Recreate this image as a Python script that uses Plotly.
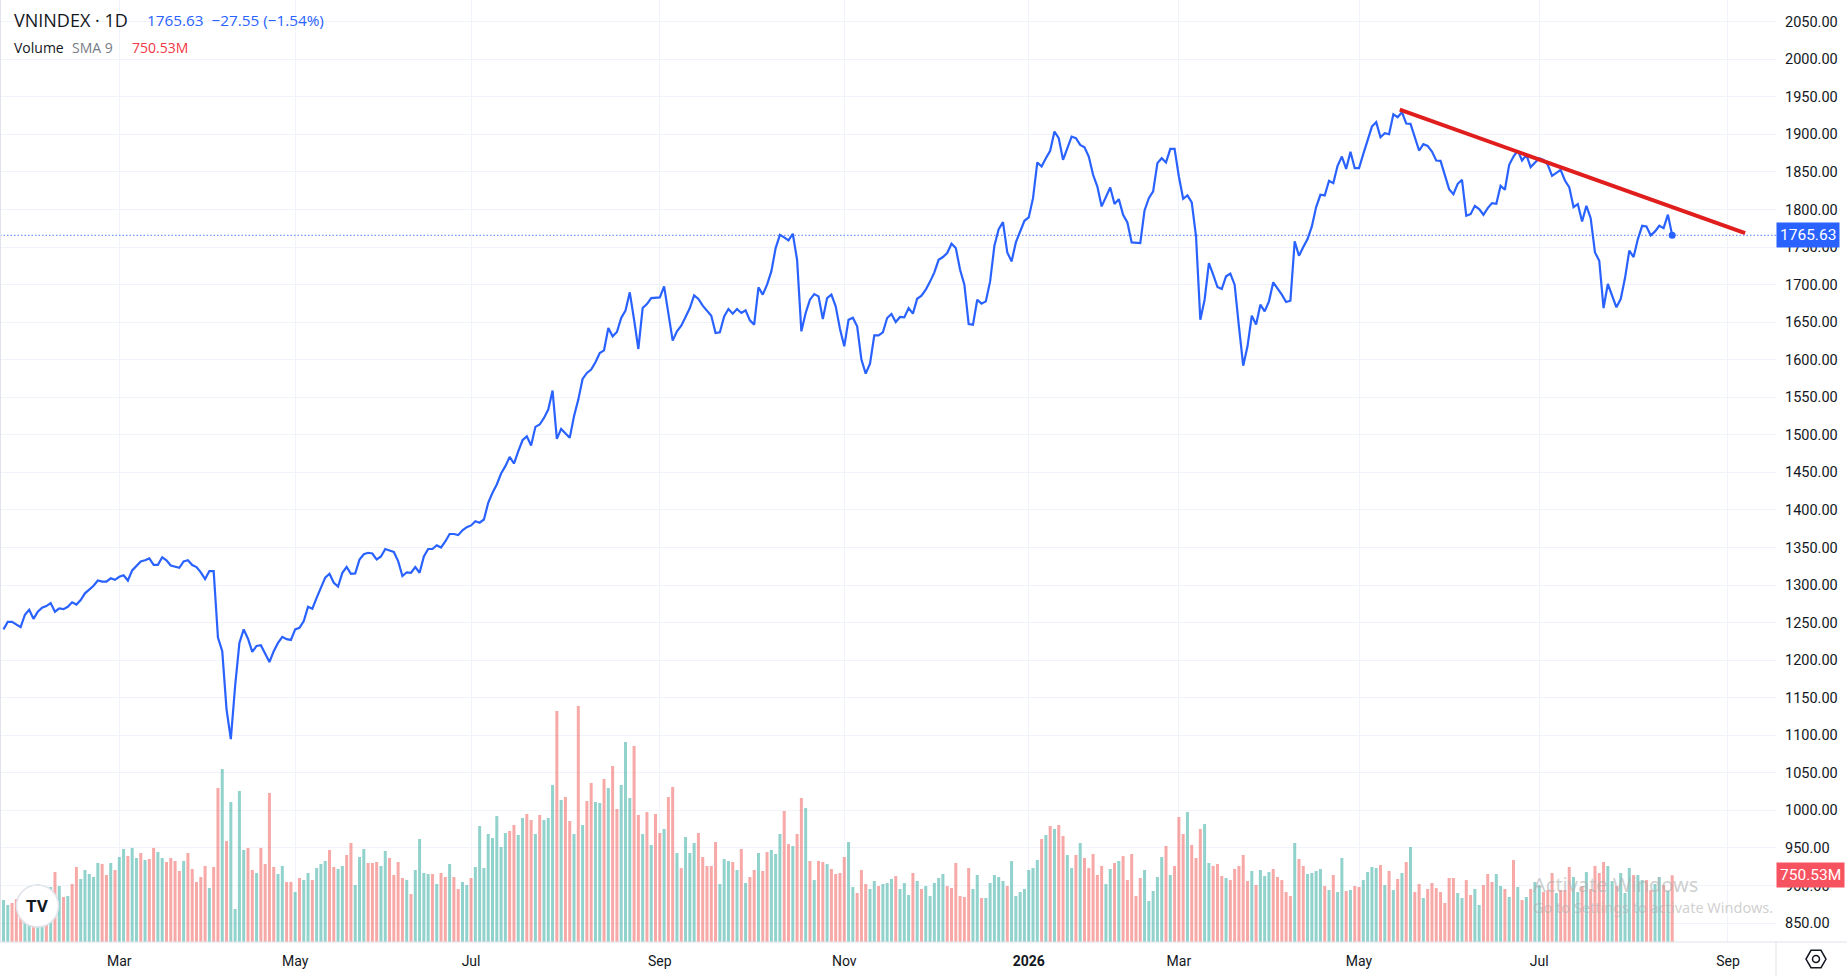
import plotly.graph_objects as go

# VNINDEX daily closes, one per bar
close = [
    1241, 1251, 1251, 1248, 1244, 1260.5, 1267, 1255, 1264.5, 1270,
    1272, 1276, 1264.5, 1269, 1268, 1271, 1277, 1274, 1280, 1289,
    1294, 1299, 1306, 1304.5, 1304.5, 1309, 1307, 1311, 1313, 1306,
    1319.5, 1326, 1331.5, 1333, 1335.5, 1327, 1327, 1337, 1333, 1326,
    1325, 1323, 1331.5, 1333, 1326.6, 1324, 1317, 1308, 1318.6, 1318.6,
    1230, 1212, 1134.6, 1095, 1165.6, 1223, 1241, 1228.6, 1211, 1219,
    1220, 1209, 1197.6, 1212, 1223, 1231, 1228, 1227, 1241, 1243,
    1252, 1271, 1268.5, 1283, 1296.5, 1310, 1315, 1303, 1298, 1316.4,
    1324, 1315, 1315.5, 1334, 1341, 1343, 1342, 1334, 1338, 1348,
    1346, 1344, 1332, 1312, 1317, 1316.4, 1324, 1316.4, 1338, 1348,
    1348, 1353, 1350, 1358, 1368, 1368, 1366.5, 1373, 1377, 1379.4,
    1385, 1383, 1387.3, 1409.5, 1422.8, 1433.9, 1448.5, 1458.3, 1470.7, 1461.8,
    1478, 1492.8, 1498, 1485.7, 1510.6, 1513.7, 1522.5, 1533.6, 1558.9, 1494.6,
    1507.9, 1502.6, 1496, 1524.8, 1546.9, 1574.4, 1582.4, 1586.8, 1596.6, 1609,
    1612.5, 1642.2, 1631.1, 1636.9, 1655.5, 1665.3, 1689.7, 1653.3, 1614.3, 1668.8,
    1674.1, 1682.1, 1683, 1683, 1697.6, 1662.2, 1625.4, 1637.8, 1645.3, 1656.9,
    1668.8, 1685.7, 1680.8, 1671.9, 1665.3, 1658.6, 1635.6, 1636.5, 1657.7, 1667.5,
    1661.3, 1667.5, 1662.2, 1665.7, 1652.4, 1646.7, 1696.3, 1686.6, 1699.9, 1717.6,
    1748.6, 1766.3, 1762.8, 1758.8, 1767.7, 1733.1, 1637.8, 1662.2, 1679.9, 1687.4,
    1684.3, 1654.2, 1682.1, 1686.6, 1671, 1640.9, 1617.8, 1653.3, 1656, 1644.4,
    1600.1, 1581.5, 1594.8, 1632.5, 1632.5, 1636.5, 1655.5, 1660.9, 1650.2, 1656.9,
    1656.4, 1668.8, 1661.3, 1681.2, 1685.2, 1693.2, 1704, 1716.3, 1733, 1736.7,
    1742, 1754.4, 1748.6, 1719.8, 1699.9, 1647.6, 1646.7, 1679.9, 1674.6, 1677.7,
    1704.3, 1751.7, 1773.9, 1783.2, 1742.9, 1730.9, 1756.2, 1769.5, 1785, 1789.4,
    1815.1, 1862.6, 1857.2, 1868.3, 1878.1, 1903.8, 1894.9, 1866.1, 1880.3, 1897.1,
    1894.9, 1886, 1882.9, 1870.5, 1846.2, 1830.6, 1804.1, 1817.3, 1829.3, 1807.2,
    1813.8, 1793, 1782.8, 1756.2, 1755.3, 1755.3, 1798.7, 1815.1, 1824, 1861.7,
    1868.3, 1862.6, 1880.7, 1880.7, 1843.9, 1814.2, 1818.7, 1809.4, 1764.1, 1653.3,
    1679.9, 1728.7, 1713.2, 1696.8, 1694.1, 1711, 1714.5, 1699.9, 1644.5, 1592.1,
    1617.8, 1658.6, 1646.7, 1673.3, 1664.4, 1677.7, 1703, 1695.4, 1686.6, 1676.8,
    1678.6, 1757.5, 1738.4, 1750, 1760.6, 1777.4, 1803.2, 1819.6, 1818.7, 1838.2,
    1835.1, 1858.1, 1870.5, 1854.1, 1876.7, 1855, 1855, 1874.1, 1892.7, 1910.4,
    1916.2, 1896.2, 1901.6, 1900.2, 1926.8, 1922.8, 1929.5, 1914.5, 1914, 1897.1,
    1878.5, 1887, 1884.7, 1877.2, 1865.2, 1864.8, 1844.8, 1827.1, 1820.4, 1834.2,
    1839.5, 1791.6, 1793.8, 1804.9, 1800.5, 1793, 1801.8, 1808.5, 1807.6, 1831.5,
    1826.2, 1859.5, 1870.5, 1878.5, 1865.2, 1872.8, 1856.4, 1862.6, 1868.3, 1866.1,
    1859.5, 1844.8, 1849.3, 1852.8, 1838.6, 1829.8, 1803.2, 1807.2, 1784.1, 1804.9,
    1788.5, 1742.9, 1731.8, 1668.8, 1700.8, 1684.4, 1669.7, 1680.8, 1708.7, 1745.1,
    1736.7, 1760.6, 1778.3, 1777.4, 1765.5, 1770.8, 1778.3, 1775.2, 1793.18, 1765.63,
]

# volume in millions of shares
volume = [
    472, 416, 439, 484, 510, 548, 529, 566, 649, 604,
    585, 619, 788, 630, 506, 518, 653, 844, 709, 810,
    765, 731, 889, 878, 754, 889, 810, 956, 1046, 968,
    1058, 945, 1001, 923, 934, 1058, 1013, 945, 900, 945,
    911, 799, 911, 1001, 821, 675, 731, 855, 608, 844,
    1733, 1946, 1136, 1575, 371, 1699, 1035, 1058, 810, 776,
    1058, 878, 1676, 844, 765, 855, 675, 675, 563, 720,
    698, 776, 698, 833, 878, 911, 1035, 844, 821, 855,
    979, 1114, 641, 956, 1046, 889, 889, 900, 855, 1024,
    945, 754, 900, 720, 698, 540, 810, 1159, 776, 765,
    765, 653, 776, 731, 878, 731, 596, 675, 641, 720,
    844, 1305, 832, 1215, 1170, 1417, 1069, 1226, 1249, 1316,
    1204, 1395, 1440, 1372, 1215, 1429, 1372, 1395, 1766, 2599,
    1597, 1631, 1361, 1215, 2655, 1316, 1586, 1789, 1575, 1564,
    1834, 1732, 1980, 1496, 1766, 2250, 1620, 2205, 1429, 1215,
    1462, 1091, 1440, 1226, 1271, 1631, 1744, 1001, 832, 1181,
    1001, 1114, 1226, 956, 855, 855, 1125, 652, 934, 911,
    900, 810, 1046, 664, 731, 810, 1001, 799, 1012, 1035,
    990, 1215, 1474, 1102, 1080, 1215, 1620, 1507, 911, 697,
    911, 900, 877, 821, 765, 776, 956, 1125, 619, 551,
    810, 652, 596, 686, 630, 652, 664, 709, 742, 596,
    664, 529, 776, 686, 596, 630, 517, 664, 720, 765,
    630, 607, 889, 517, 506, 832, 596, 754, 495, 495,
    664, 754, 731, 686, 630, 911, 517, 562, 596, 810,
    832, 922, 1159, 1204, 1305, 1271, 1316, 1192, 979, 832,
    979, 1114, 945, 832, 990, 754, 855, 652, 821, 889,
    911, 967, 697, 990, 517, 720, 810, 461, 574, 731,
    956, 1080, 754, 855, 1406, 1215, 1462, 1091, 945, 1271,
    1327, 889, 855, 877, 742, 720, 697, 821, 855, 979,
    686, 799, 641, 810, 742, 787, 821, 731, 697, 562,
    517, 1114, 934, 855, 765, 776, 799, 821, 630, 585,
    754, 562, 945, 574, 585, 630, 619, 697, 787, 844,
    832, 866, 641, 799, 585, 709, 776, 900, 1069, 562,
    652, 495, 596, 664, 607, 562, 439, 720, 720, 551,
    495, 697, 529, 596, 416, 641, 765, 675, 765, 630,
    596, 506, 922, 619, 472, 506, 596, 675, 641, 562,
    585, 776, 551, 585, 585, 844, 731, 562, 630, 787,
    596, 855, 776, 900, 855, 686, 630, 776, 551, 832,
    754, 754, 697, 697, 585, 652, 731, 641, 574, 750.53,
]

# candle direction of each bar (g = up, r = down), sets the volume colour
vol_dir = (
    "ggrrrggrgg" "rgrgrgrrgg" "gggrrgrggr" "ggrgrrggrr" "rrgrrrrrgr"
    "rgrggggrrg" "rrrrggrrgr" "ggrgggrrgg" "rrgggrrrgg" "rrrrgrgggg"
    "rgrrgrrggr" "ggggggggrr" "ggrrgrgggr" "grrgrgrrgg" "rgrrgggrrg"
    "rgrrgrrgrg" "ggrrrrrggg" "rgrgrrgrrg" "ggrrgrrgrg" "rrgrrrrggr"
    "rrggrgggrg" "ggrgrggggg" "rrrrrrggrg" "ggggrggggg" "ggrgrgrrgg"
    "rgrrrrrggr" "grrrrrgggg" "grgrrrgrrr" "ggrrrgrrrr" "rgrgggrrrr"
    "rgrrggggrg" "rggrgrrggg" "grgrgrgrgr" "rgrrrrrrrg" "grrggrrrgg"
    "rgrgrgrggr" "rrgrrrggrg" "rrrrggrggg" "rggrrggrgr"
)

# month labels on the time axis (bar index where each month starts)
month_pos = [27, 68, 109, 153, 196, 239, 274, 316, 358, 402]
month_txt = ["Mar", "May", "Jul", "Sep", "Nov", "<b>2026</b>", "Mar", "May", "Jul", "Sep"]

price_ticks = list(range(850, 2051, 50))

# hand-drawn red trendline (bar index, price)
trend_x = [325.5, 406]
trend_y = [1933, 1768.5]

bars = list(range(len(close)))
last = close[-1]
chg = close[-1] - close[-2]
pct = chg / close[-2] * 100

W, H = 1847, 976
PW, PH = 1776, 942  # plot area in pixels


def px(x):
    return x / PW


def py(y):
    return (PH - y) / PH


FONT = "Open Sans"
AXFONT = "Roboto"
BLUE = "#2962ff"
TXT = "#131722"
GRID = "#f0f3fa"

green = "rgba(38,166,154,0.5)"
red = "rgba(239,83,80,0.5)"
bar_colors = [green if d == "g" else red for d in vol_dir]

fig = go.Figure()

fig.add_trace(go.Bar(
    x=bars, y=volume, marker=dict(color=bar_colors, line=dict(width=0)),
    yaxis="y2", showlegend=False, hoverinfo="skip",
))
fig.add_trace(go.Scatter(
    x=bars, y=close, mode="lines", line=dict(color=BLUE, width=2.2),
    showlegend=False,
))
fig.add_trace(go.Scatter(
    x=[bars[-1]], y=[last], mode="markers",
    marker=dict(color=BLUE, size=7), showlegend=False,
))
fig.add_trace(go.Scatter(
    x=trend_x, y=trend_y, mode="lines",
    line=dict(color="#e01e1e", width=4), showlegend=False,
))

shapes = [
    # last price dotted line
    dict(type="line", xref="paper", yref="y", x0=0, x1=1, y0=last, y1=last,
         line=dict(color="rgba(41,98,255,0.8)", width=1, dash="1.5px,2px")),
    # left edge strip
    dict(type="line", xref="paper", yref="paper", x0=0, x1=0, y0=0, y1=1,
         line=dict(color="#e0e3eb", width=2)),
    # time axis border across the full width
    dict(type="line", xref="paper", yref="paper", x0=0, x1=W / PW, y0=0, y1=0,
         line=dict(color="#e0e3eb", width=1)),
    dict(type="line", xref="paper", yref="paper", x0=1, x1=1, y0=0, y1=py(H),
         line=dict(color="#e0e3eb", width=1)),
    # TradingView logo badge
    dict(type="circle", xref="paper", yref="paper",
         x0=px(37.5 - 21), x1=px(37.5 + 21), y0=py(906 + 21), y1=py(906 - 21),
         fillcolor="white", line=dict(color="#e0e3eb", width=1.5)),
]

# settings gear (hexagon with a ring) bottom-right
cx, cy, r = 1816, 959, 10
hexa = [(cx + r, cy), (cx + r / 2, cy - r * 0.866), (cx - r / 2, cy - r * 0.866),
        (cx - r, cy), (cx - r / 2, cy + r * 0.866), (cx + r / 2, cy + r * 0.866)]
path = "M " + " L ".join("%f,%f" % (px(a), py(b)) for a, b in hexa) + " Z"
shapes.append(dict(type="path", xref="paper", yref="paper", path=path,
                   line=dict(color=TXT, width=1.5)))
shapes.append(dict(type="circle", xref="paper", yref="paper",
                   x0=px(cx - 3.5), x1=px(cx + 3.5), y0=py(cy + 3.5), y1=py(cy - 3.5),
                   line=dict(color=TXT, width=1.5)))

wm = "rgba(175,175,175,0.6)"
ann = [
    dict(text="VNINDEX · 1D", x=px(12), y=py(20), font=dict(size=18, color=TXT)),
    dict(text="%.2f\u00a0\u00a0\u2212%.2f (\u2212%.2f%%)" % (last, abs(chg), abs(pct)),
         x=px(145), y=py(20), font=dict(size=15.3, color=BLUE)),
    dict(text="Volume", x=px(12), y=py(48), font=dict(size=14, color=TXT)),
    dict(text="SMA 9", x=px(70), y=py(48), font=dict(size=14, color="#787b86")),
    dict(text="%.2fM" % volume[-1], x=px(130), y=py(48), font=dict(size=14, color="#f23645")),
    dict(text="<b>TV</b>", x=px(37.5), y=py(906), xanchor="center",
         font=dict(size=17, color=TXT, family="Roboto")),
    dict(text="Activate Windows", x=px(1531), y=py(884),
         font=dict(size=20, color=wm, family="Noto Sans")),
    dict(text="Go to Settings to activate Windows.", x=px(1531), y=py(907),
         font=dict(size=14.5, color=wm, family="Noto Sans")),
]
for a in ann:
    a.setdefault("xanchor", "left")
    a.update(xref="paper", yref="paper", yanchor="middle", showarrow=False)
    a["font"].setdefault("family", FONT)

# price and volume tags on the right scale
ann.append(dict(text="%.2f" % last, xref="paper", yref="y", x=1, y=last,
                xanchor="left", yanchor="middle", showarrow=False,
                bgcolor=BLUE, borderpad=3, font=dict(size=15.5, color="white", family=AXFONT)))
ann.append(dict(text="%.2fM" % volume[-1], xref="paper", yref="y2", x=1, y=volume[-1],
                xanchor="left", yanchor="middle", showarrow=False,
                bgcolor="#f7525f", borderpad=3, font=dict(size=15.5, color="white", family=AXFONT)))

fig.update_layout(
    width=W, height=H,
    margin=dict(l=0, r=W - PW, t=0, b=H - PH),
    paper_bgcolor="white", plot_bgcolor="white",
    font=dict(family=FONT, size=14, color=TXT),
    bargap=0.3,
    xaxis=dict(
        range=[-0.81, 413.2], tickmode="array", tickvals=month_pos, ticktext=month_txt,
        showgrid=True, gridcolor=GRID, gridwidth=1, zeroline=False,
        showline=False, ticks="", ticklabelstandoff=9,
        tickfont=dict(size=14, color=TXT, family=AXFONT),
    ),
    yaxis=dict(
        side="right", range=[824.8, 2078.9], tickmode="array", tickvals=price_ticks,
        tickformat=".2f", showgrid=True, gridcolor=GRID, gridwidth=1, zeroline=False,
        ticks="", ticklabelstandoff=8, tickfont=dict(size=14.5, color=TXT, family=AXFONT),
    ),
    yaxis2=dict(
        overlaying="y", range=[0, PH * 11.25], visible=False, showgrid=False,
    ),
    shapes=shapes,
    annotations=ann,
)

# the page has a default 8px body margin; drop it so the chart sits at 0,0
fig.write_html("out.html", config={"displayModeBar": False},
               post_script="document.body.style.margin='0';")
